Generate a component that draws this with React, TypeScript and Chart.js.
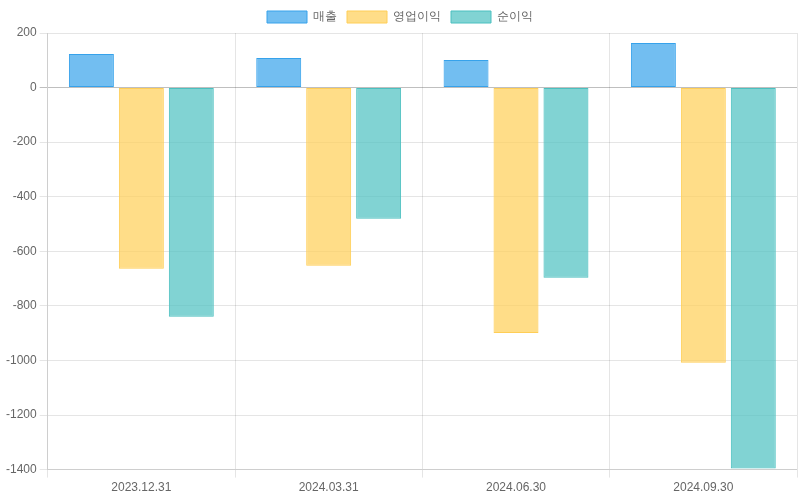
import React, { useEffect, useRef } from "react";
import { Chart, registerables } from "chart.js";

Chart.register(...registerables);

const categories = ["2023.12.31", "2024.03.31", "2024.06.30", "2024.09.30"];
const revenue = [123, 108, 101, 163];
const operatingProfit = [-664, -653, -899, -1008];
const netProfit = [-840, -481, -697, -1396];

export default function App() {
  const ref = useRef<HTMLCanvasElement>(null);
  useEffect(() => {
    document.body.style.margin = "0";
    const chart = new Chart(ref.current!, {
      type: "bar",
      data: {
        labels: categories,
        datasets: [
          { label: "매출", data: revenue, backgroundColor: "rgba(54,162,235,0.7)", borderColor: "rgba(54,162,235,1)", borderWidth: 1, borderSkipped: false },
          { label: "영업이익", data: operatingProfit, backgroundColor: "rgba(255,206,86,0.7)", borderColor: "rgba(255,206,86,1)", borderWidth: 1, borderSkipped: false },
          { label: "순이익", data: netProfit, backgroundColor: "rgba(75,192,192,0.7)", borderColor: "rgba(75,192,192,1)", borderWidth: 1, borderSkipped: false },
        ],
      },
      options: {
        responsive: false,
        animation: false,
        layout: { padding: { left: 3, right: 3, top: 1, bottom: 2 } },
        plugins: { legend: { position: "top" } },
        scales: {
          y: {
            min: -1400,
            max: 200,
            ticks: { stepSize: 200, callback: (v: any) => String(v) },
            grid: {
              color: (ctx: any) => (ctx.tick && ctx.tick.value === 0 ? "rgba(0,0,0,0.25)" : "rgba(0,0,0,0.1)"),
            },
          },
        },
      },
    });
    return () => chart.destroy();
  }, []);
  return <canvas ref={ref} width={800} height={500} style={{ display: "block" }} />;
}
